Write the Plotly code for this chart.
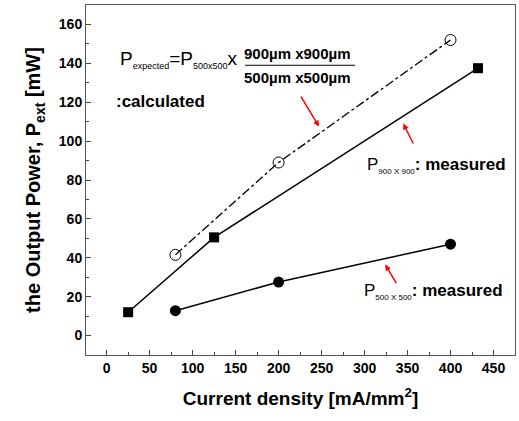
import plotly.graph_objects as go

# Data
x_expected = [80, 200, 400]
y_expected = [41.5, 89, 152]
x_900 = [25, 125, 432]
y_900 = [12, 50.5, 137.5]
x_500 = [80, 200, 400]
y_500 = [12.8, 27.5, 47]

x_ticks = [0, 50, 100, 150, 200, 250, 300, 350, 400, 450]
y_ticks = [0, 20, 40, 60, 80, 100, 120, 140, 160]

FONT = "Liberation Sans Narrow, Liberation Sans, Arial"

fig = go.Figure()
fig.add_trace(go.Scatter(x=x_expected, y=y_expected, mode="lines+markers",
                         line=dict(color="black", width=1.3, dash="dashdot"),
                         marker=dict(symbol="circle-open", size=11, color="black", line=dict(width=1)),
                         showlegend=False))
fig.add_trace(go.Scatter(x=x_900, y=y_900, mode="lines+markers",
                         line=dict(color="black", width=1.5),
                         marker=dict(symbol="square", size=10, color="black"),
                         showlegend=False))
fig.add_trace(go.Scatter(x=x_500, y=y_500, mode="lines+markers",
                         line=dict(color="black", width=1.5),
                         marker=dict(symbol="circle", size=11, color="black"),
                         showlegend=False))

ann = []
def txt(x, y, t, size=14, xanchor="left", bold=True):
    ann.append(dict(x=x, y=y, xref="x", yref="y", text=t, showarrow=False,
                    xanchor=xanchor, yanchor="middle",
                    font=dict(family="Liberation Sans, Arial", size=size, color="black",
                              weight="bold" if bold else "normal")))

def sub(s, fs=8):
    return "<sub><span style='font-size:%dpx;font-weight:normal'>%s</span></sub>" % (fs, s)

txt(155, 142, "P" + sub("expected", 9.5) + "=P" + sub("500x500", 9.5) + "x", size=19, xanchor="right", bold=False)
txt(222, 145, "900µm x900µm", size=15, xanchor="center")
txt(222, 132.5, "500µm x500µm", size=15, xanchor="center")
txt(8, 120.5, ":calculated", size=17)
txt(301, 87.5, "<span style='font-weight:normal'>P</span>" + sub("900 X 900") + ": measured", size=17)
txt(297, 22.5, "<span style='font-weight:normal'>P</span>" + sub("500 X 500") + ": measured", size=17)

def arrow(xh, yh, xt, yt):
    ann.append(dict(x=xh, y=yh, ax=xt, ay=yt, xref="x", yref="y", axref="x", ayref="y",
                    showarrow=True, arrowhead=2, arrowsize=0.8, arrowwidth=1.5,
                    arrowcolor="red", text=""))

arrow(247, 107.5, 225, 123.6)
arrow(345, 109, 357.5, 98)
arrow(324, 36.5, 338, 26.2)

fig.update_layout(
    width=519, height=421,
    margin=dict(l=86, r=4, t=5, b=66, autoexpand=False),
    plot_bgcolor="white", paper_bgcolor="white",
    annotations=ann,
    shapes=[dict(type="line", xref="x", yref="y", x0=161, x1=289, y0=139, y1=139,
                 line=dict(color="black", width=1))],
    xaxis=dict(range=[-24, 475], tickvals=x_ticks, ticks="inside", ticklen=5,
               tickcolor="#444", showgrid=False, zeroline=False, automargin=False,
               showline=True, linecolor="#555", linewidth=1, mirror=True,
               minor=dict(dtick=25, tick0=0, ticks="inside", ticklen=3, tickcolor="#444"),
               tickfont=dict(family=FONT, size=14, color="black", weight="bold"),
               title=dict(text="Current density [mA/mm<sup>2</sup>]", standoff=16,
                          font=dict(family="Liberation Sans, Arial", size=19, color="black", weight="bold"))),
    yaxis=dict(range=[-10, 170], tickvals=y_ticks, ticks="inside", ticklen=5,
               tickcolor="#444", showgrid=False, zeroline=False, automargin=False,
               showline=True, linecolor="#555", linewidth=1, mirror=True,
               minor=dict(dtick=10, tick0=0, ticks="inside", ticklen=3, tickcolor="#444"),
               tickfont=dict(family=FONT, size=14, color="black", weight="bold"),
               title=dict(text="the Output Power, P<sub>ext</sub> [mW]", standoff=12,
                          font=dict(family="Liberation Sans, Arial", size=20, color="black", weight="bold"))),
)

fig.write_html("out.html", config={"displayModeBar": False},
               post_script="document.body.style.margin='0px';document.body.style.overflow='hidden';")
